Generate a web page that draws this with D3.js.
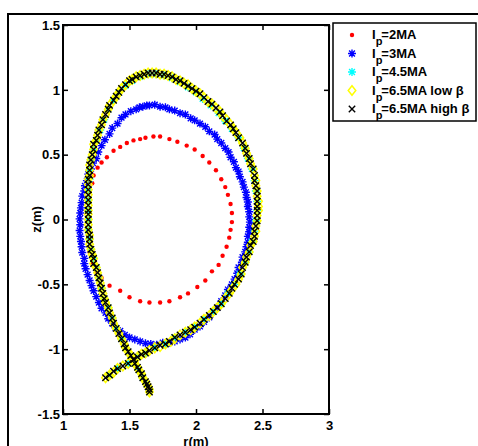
<!DOCTYPE html>
<html lang="en">
<head>
<meta charset="UTF-8">
<title>Plasma boundary shapes</title>
<script src="https://d3js.org/d3.v7.min.js"></script>
<style>
  body { margin: 0; background: #fff; }
  svg { display: block; font-family: "Liberation Sans", Arial, sans-serif; font-weight: bold; }
</style>
</head>
<body>
<div id="chart"></div>
<script>
// boundary points, [r (m), z (m)]
const ip2 = [[1.68,0.64],[1.73,0.64],[1.80,0.62],[1.86,0.60],[1.93,0.57],[1.99,0.54],[2.05,0.49],[2.10,0.44],[2.15,0.38],[2.19,0.31],[2.22,0.25],[2.24,0.19],[2.26,0.12],[2.27,0.05],[2.27,-0.02],[2.26,-0.08],[2.25,-0.14],[2.23,-0.21],[2.20,-0.28],[2.17,-0.35],[2.12,-0.40],[2.07,-0.47],[2.01,-0.52],[1.94,-0.57],[1.88,-0.60],[1.80,-0.63],[1.73,-0.64],[1.65,-0.64],[1.58,-0.63],[1.50,-0.60],[1.43,-0.55],[1.35,-0.51],[1.29,-0.45],[1.25,-0.40],[1.22,-0.33],[1.20,-0.25],[1.195,-0.17],[1.19,-0.10],[1.19,-0.02],[1.19,0.06],[1.195,0.135],[1.20,0.21],[1.22,0.28],[1.23,0.34],[1.26,0.40],[1.29,0.44],[1.33,0.48],[1.38,0.53],[1.43,0.56],[1.48,0.59],[1.53,0.61],[1.58,0.62],[1.62,0.63]];

const ip3 = [[1.65,0.88],[1.73,0.87],[1.80,0.85],[1.88,0.82],[1.96,0.78],[2.03,0.74],[2.10,0.68],[2.16,0.62],[2.22,0.55],[2.26,0.48],[2.30,0.40],[2.33,0.33],[2.36,0.25],[2.38,0.17],[2.39,0.10],[2.40,0.02],[2.40,-0.06],[2.39,-0.13],[2.38,-0.21],[2.35,-0.29],[2.32,-0.37],[2.29,-0.46],[2.24,-0.54],[2.19,-0.63],[2.13,-0.71],[2.06,-0.79],[1.99,-0.85],[1.92,-0.91],[1.84,-0.94],[1.75,-0.95],[1.66,-0.96],[1.58,-0.94],[1.50,-0.91],[1.43,-0.86],[1.37,-0.80],[1.32,-0.72],[1.27,-0.64],[1.23,-0.55],[1.20,-0.47],[1.17,-0.38],[1.16,-0.30],[1.14,-0.21],[1.13,-0.13],[1.13,-0.04],[1.13,0.05],[1.14,0.13],[1.16,0.22],[1.18,0.30],[1.21,0.39],[1.25,0.47],[1.29,0.57],[1.35,0.66],[1.41,0.74],[1.47,0.81],[1.55,0.85],[1.60,0.87],
  [1.69,0.885],[1.77,0.865],[1.84,0.84],[1.92,0.81],[1.99,0.765],[2.07,0.715],[2.14,0.655],[2.19,0.59],[2.245,0.52],[2.285,0.445],[2.32,0.37],[2.35,0.29],[2.375,0.21],[2.39,0.135],[2.40,0.06],[2.405,-0.02],[2.40,-0.095],[2.39,-0.175],[2.37,-0.25],[2.345,-0.33],[2.31,-0.415],[2.27,-0.50],[2.22,-0.585],[2.165,-0.675],[2.10,-0.755],[2.03,-0.825],[1.955,-0.885],[1.88,-0.925],[1.80,-0.95],[1.705,-0.965],[1.62,-0.955],[1.54,-0.925],[1.465,-0.89],[1.395,-0.835],[1.34,-0.765],[1.29,-0.685],[1.25,-0.595],[1.215,-0.51],[1.185,-0.425],[1.16,-0.34],[1.145,-0.255],[1.135,-0.17],[1.125,-0.085],[1.125,0.005],[1.135,0.09],[1.145,0.18],[1.165,0.26],[1.19,0.35],[1.225,0.435],[1.265,0.52],[1.315,0.615],[1.37,0.705],[1.44,0.785],[1.51,0.835],[1.575,0.865],[1.63,0.88]];

const ip45 = [[1.35,-1.20],[1.41,-1.15],[1.49,-1.11],[1.56,-1.06],[1.62,-1.03],[1.69,-0.99],[1.77,-0.96],[1.84,-0.91],[1.92,-0.87],[1.99,-0.83],[2.06,-0.77],[2.13,-0.71],[2.19,-0.65],[2.24,-0.57],[2.29,-0.50],[2.33,-0.42],[2.37,-0.33],[2.40,-0.25],[2.42,-0.17],[2.44,-0.09],[2.45,-0.01],[2.46,0.07],[2.46,0.14],[2.45,0.22],[2.44,0.30],[2.42,0.39],[2.39,0.47],[2.36,0.55],[2.32,0.63],[2.27,0.70],[2.22,0.76],[2.17,0.82],[2.11,0.88],[2.05,0.93],[2.00,0.98],[1.94,1.02],[1.88,1.06],[1.82,1.09],[1.76,1.11],[1.70,1.12],[1.64,1.12],[1.58,1.10],[1.52,1.07],[1.47,1.03],[1.42,0.98],[1.38,0.92],[1.34,0.85],[1.31,0.77],[1.28,0.69],[1.25,0.61],[1.23,0.54],[1.21,0.46],[1.20,0.38],[1.20,0.31],[1.19,0.23],[1.19,0.15],[1.19,0.07],[1.19,0.00],[1.19,-0.08],[1.20,-0.15],[1.21,-0.23],[1.23,-0.30],[1.25,-0.37],[1.27,-0.45],[1.29,-0.53],[1.31,-0.61],[1.34,-0.68],[1.37,-0.76],[1.40,-0.84],[1.44,-0.92],[1.47,-0.99],[1.51,-1.05],[1.54,-1.11],[1.57,-1.16],[1.60,-1.22],[1.63,-1.27],[1.65,-1.31]];

const ip65Low = [[1.32,-1.22],[1.38,-1.18],[1.45,-1.13],[1.53,-1.08],[1.59,-1.04],[1.65,-1.01],[1.73,-0.98],[1.81,-0.94],[1.88,-0.89],[1.96,-0.85],[2.03,-0.80],[2.10,-0.74],[2.16,-0.68],[2.22,-0.61],[2.27,-0.54],[2.32,-0.46],[2.35,-0.37],[2.38,-0.29],[2.41,-0.20],[2.44,-0.13],[2.45,-0.05],[2.46,0.03],[2.47,0.10],[2.46,0.18],[2.45,0.26],[2.44,0.34],[2.41,0.43],[2.38,0.51],[2.35,0.59],[2.30,0.67],[2.26,0.73],[2.20,0.80],[2.15,0.86],[2.09,0.91],[2.03,0.97],[1.97,1.01],[1.91,1.05],[1.85,1.08],[1.79,1.11],[1.73,1.12],[1.67,1.13],[1.61,1.12],[1.55,1.10],[1.50,1.07],[1.44,1.01],[1.40,0.95],[1.35,0.88],[1.32,0.81],[1.29,0.73],[1.26,0.65],[1.23,0.58],[1.22,0.50],[1.20,0.42],[1.20,0.34],[1.19,0.27],[1.19,0.19],[1.19,0.11],[1.19,0.04],[1.19,-0.04],[1.20,-0.12],[1.20,-0.19],[1.22,-0.27],[1.23,-0.34],[1.26,-0.41],[1.28,-0.49],[1.30,-0.57],[1.32,-0.64],[1.35,-0.72],[1.38,-0.80],[1.42,-0.88],[1.46,-0.96],[1.49,-1.02],[1.53,-1.08],[1.56,-1.14],[1.59,-1.19],[1.62,-1.25],[1.64,-1.29],[1.65,-1.33],
  [1.35,-1.20],[1.41,-1.15],[1.49,-1.11],[1.56,-1.06],[1.62,-1.03],[1.69,-0.99],[1.77,-0.96],[1.84,-0.92],[1.92,-0.87],[1.99,-0.83],[2.06,-0.77],[2.13,-0.71],[2.19,-0.65],[2.25,-0.57],[2.30,-0.50],[2.34,-0.42],[2.37,-0.33],[2.40,-0.25],[2.43,-0.17],[2.45,-0.09],[2.46,-0.01],[2.47,0.07],[2.47,0.14],[2.46,0.22],[2.45,0.30],[2.43,0.39],[2.40,0.47],[2.37,0.55],[2.33,0.63],[2.28,0.70],[2.23,0.77],[2.18,0.83],[2.12,0.89],[2.06,0.94],[2.00,0.99],[1.94,1.04],[1.88,1.07],[1.82,1.10],[1.76,1.12],[1.70,1.13],[1.64,1.13],[1.58,1.11],[1.52,1.08],[1.47,1.04],[1.42,0.98],[1.38,0.92],[1.34,0.85],[1.30,0.77],[1.27,0.69],[1.25,0.61],[1.23,0.54],[1.21,0.46],[1.20,0.38],[1.19,0.31],[1.19,0.23],[1.19,0.15],[1.19,0.07],[1.19,0.00],[1.19,-0.08],[1.20,-0.15],[1.21,-0.23],[1.23,-0.30],[1.25,-0.37],[1.27,-0.45],[1.29,-0.53],[1.31,-0.61],[1.34,-0.68],[1.37,-0.76],[1.40,-0.84],[1.44,-0.92],[1.47,-0.99],[1.51,-1.05],[1.54,-1.11],[1.57,-1.16],[1.60,-1.22],[1.63,-1.27],[1.65,-1.31]];

const ip65High = [[1.32,-1.22],[1.38,-1.17],[1.45,-1.13],[1.53,-1.08],[1.59,-1.04],[1.65,-1.01],[1.73,-0.97],[1.80,-0.94],[1.88,-0.89],[1.96,-0.85],[2.03,-0.80],[2.10,-0.74],[2.16,-0.68],[2.22,-0.61],[2.27,-0.53],[2.32,-0.46],[2.35,-0.37],[2.38,-0.29],[2.41,-0.20],[2.44,-0.13],[2.45,-0.05],[2.46,0.03],[2.46,0.10],[2.46,0.18],[2.45,0.26],[2.44,0.34],[2.41,0.43],[2.38,0.51],[2.35,0.59],[2.30,0.67],[2.26,0.73],[2.20,0.80],[2.15,0.86],[2.09,0.91],[2.03,0.97],[1.97,1.01],[1.91,1.05],[1.85,1.08],[1.79,1.11],[1.73,1.12],[1.67,1.13],[1.61,1.12],[1.55,1.10],[1.50,1.07],[1.44,1.01],[1.40,0.95],[1.35,0.88],[1.32,0.81],[1.29,0.73],[1.26,0.65],[1.23,0.58],[1.22,0.50],[1.20,0.42],[1.20,0.34],[1.19,0.27],[1.19,0.19],[1.19,0.11],[1.19,0.04],[1.19,-0.04],[1.20,-0.12],[1.20,-0.19],[1.22,-0.27],[1.23,-0.34],[1.26,-0.41],[1.28,-0.49],[1.30,-0.57],[1.32,-0.64],[1.35,-0.72],[1.38,-0.80],[1.42,-0.88],[1.46,-0.96],[1.49,-1.02],[1.53,-1.08],[1.56,-1.14],[1.59,-1.19],[1.62,-1.25],[1.64,-1.29],[1.65,-1.33],
  [1.35,-1.20],[1.41,-1.15],[1.49,-1.11],[1.56,-1.06],[1.62,-1.03],[1.69,-0.99],[1.77,-0.96],[1.84,-0.91],[1.92,-0.87],[1.99,-0.83],[2.06,-0.77],[2.13,-0.71],[2.19,-0.65],[2.25,-0.57],[2.29,-0.50],[2.34,-0.42],[2.37,-0.33],[2.40,-0.25],[2.43,-0.17],[2.44,-0.09],[2.46,-0.01],[2.46,0.07],[2.46,0.14],[2.46,0.22],[2.44,0.30],[2.43,0.39],[2.40,0.47],[2.37,0.55],[2.32,0.63],[2.28,0.70],[2.23,0.76],[2.18,0.83],[2.12,0.89],[2.06,0.94],[2.00,0.99],[1.94,1.03],[1.88,1.07],[1.82,1.10],[1.76,1.12],[1.70,1.13],[1.64,1.13],[1.58,1.11],[1.52,1.08],[1.47,1.04],[1.42,0.98],[1.38,0.92],[1.34,0.85],[1.30,0.77],[1.27,0.69],[1.25,0.61],[1.23,0.54],[1.21,0.46],[1.20,0.38],[1.19,0.31],[1.19,0.23],[1.19,0.15],[1.19,0.07],[1.19,0.00],[1.19,-0.08],[1.20,-0.15],[1.21,-0.23],[1.23,-0.30],[1.25,-0.37],[1.27,-0.45],[1.29,-0.53],[1.31,-0.61],[1.34,-0.68],[1.37,-0.76],[1.40,-0.84],[1.44,-0.92],[1.47,-0.99],[1.51,-1.05],[1.54,-1.11],[1.57,-1.16],[1.60,-1.22],[1.63,-1.27],[1.65,-1.31]];

const xTicks = [1, 1.5, 2, 2.5, 3];
const yTicks = [-1.5, -1, -0.5, 0, 0.5, 1, 1.5];
const legendLabels = ["=2MA", "=3MA", "=4.5MA", "=6.5MA low \u03b2", "=6.5MA high \u03b2"];

const width = 478, height = 446;

const svg = d3.select("#chart").append("svg")
    .attr("width", width).attr("height", height);

// figure frame (only top and left edges are inside the picture)
svg.append("path")
    .attr("d", `M8,${height}V14H${width}`)
    .attr("fill", "none").attr("stroke", "#000").attr("stroke-width", 2);

const x = d3.scaleLinear().domain([1, 3]).range([63, 329]);
const y = d3.scaleLinear().domain([-1.5, 1.5]).range([414, 25]);

// marker shapes
const starPath = "M-4,0H4M0,-4V4M-2.9,-2.9L2.9,2.9M-2.9,2.9L2.9,-2.9";
const crossPath = "M-3.2,-3.2L3.2,3.2M-3.2,3.2L3.2,-3.2";
const diamondPath = "M0,-4.8L3.8,0L0,4.8L-3.8,0Z";

const series = [
    { data: ip2, color: "#ff0000", kind: "dot" },
    { data: ip3, color: "#0000ff", kind: "star" },
    { data: ip45, color: "#00ffff", kind: "star" },
    { data: ip65Low, color: "#ffff00", kind: "diamond" },
    { data: ip65High, color: "#000000", kind: "cross" }
];

function drawMarker(sel, kind, color) {
    if (kind === "dot") {
        sel.append("circle").attr("r", 2.2).attr("fill", color);
    } else {
        const d = kind === "star" ? starPath : kind === "cross" ? crossPath : diamondPath;
        sel.append("path").attr("d", d).attr("fill", "none")
            .attr("stroke", color).attr("stroke-width", kind === "diamond" ? 1.5 : 1.4);
    }
}

const plot = svg.append("g");
series.forEach(s => {
    plot.append("g").selectAll("g")
        .data(s.data)
        .join("g")
        .attr("transform", d => `translate(${x(d[0])},${y(d[1])})`)
        .each(function () { drawMarker(d3.select(this), s.kind, s.color); });
});

// axes, ticks pointing inward on all four sides
function styleAxis(g) {
    g.select(".domain").remove();
    g.selectAll("line").attr("stroke-width", 1.5);
    g.selectAll("text").style("font-size", "13px")
        .style("font-family", "'Liberation Sans', Arial, sans-serif")
        .style("font-weight", "bold").attr("fill", "#000");
}
svg.append("g").attr("transform", "translate(0,414)")
    .call(d3.axisBottom(x).tickValues(xTicks).tickSizeInner(-5).tickSizeOuter(0).tickPadding(7).tickFormat(d => d))
    .call(styleAxis);
svg.append("g").attr("transform", "translate(0,25)")
    .call(d3.axisTop(x).tickValues(xTicks).tickSizeInner(-5).tickSizeOuter(0).tickFormat(""))
    .call(styleAxis);
svg.append("g").attr("transform", "translate(63,0)")
    .call(d3.axisLeft(y).tickValues(yTicks).tickSizeInner(-5).tickSizeOuter(0).tickPadding(3).tickFormat(d => d))
    .call(styleAxis);
svg.append("g").attr("transform", "translate(329,0)")
    .call(d3.axisRight(y).tickValues(yTicks).tickSizeInner(-5).tickSizeOuter(0).tickFormat(""))
    .call(styleAxis);

svg.append("rect")
    .attr("x", x(1)).attr("y", y(1.5))
    .attr("width", x(3) - x(1)).attr("height", y(-1.5) - y(1.5))
    .attr("fill", "none").attr("stroke", "#000").attr("stroke-width", 2);

svg.append("text").attr("x", (x(1) + x(3)) / 2).attr("y", 446)
    .attr("text-anchor", "middle").attr("font-size", 13).text("r(m)");
svg.append("text").attr("transform", `translate(41,${y(0)}) rotate(-90)`)
    .attr("text-anchor", "middle").attr("font-size", 13).text("z(m)");

// legend
const lg = svg.append("g");
lg.append("rect").attr("x", 333).attr("y", 23).attr("width", 143).attr("height", 98)
    .attr("fill", "#fff").attr("stroke", "#000").attr("stroke-width", 1.5);
series.forEach((s, i) => {
    const yy = 35 + i * 18.5;
    const m = lg.append("g").attr("transform", `translate(352,${yy})`);
    drawMarker(m, s.kind, s.color);
    const t = lg.append("text").attr("x", 372).attr("y", yy + 4).attr("font-size", 13);
    t.append("tspan").text("I");
    t.append("tspan").attr("font-size", 11).attr("dy", 6).text("p");
    t.append("tspan").attr("dy", -6).attr("dx", -1).text(legendLabels[i]);
});
</script>
</body>
</html>
